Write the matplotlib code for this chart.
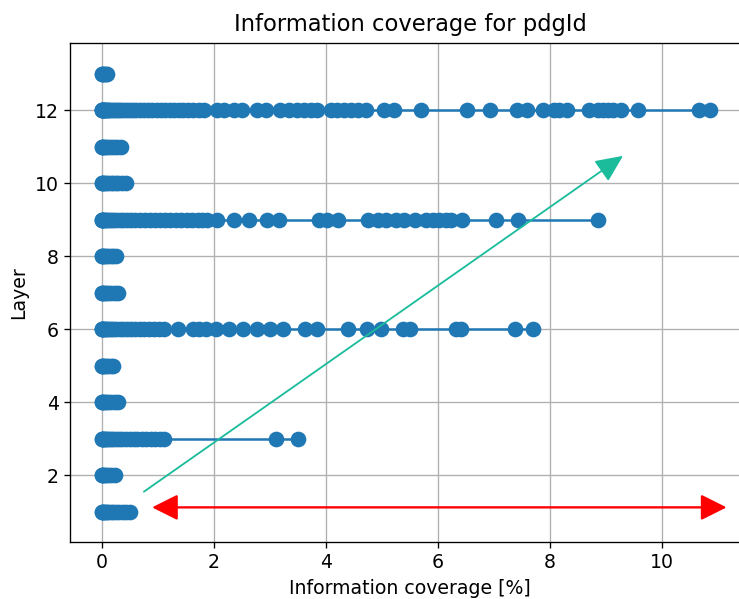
import matplotlib.pyplot as plt

# information coverage [%] per layer (one list per layer, sorted)
layer_1 = [0.0, 0.01, 0.02, 0.04, 0.06, 0.09, 0.12, 0.16, 0.2, 0.25, 0.31, 0.38, 0.44, 0.5]
layer_2 = [0.0, 0.01, 0.03, 0.05, 0.08, 0.12, 0.17, 0.23]
layer_3 = [0.0, 0.01, 0.02, 0.03, 0.05, 0.07, 0.1, 0.13, 0.17, 0.21, 0.26, 0.31, 0.37,
           0.43, 0.5, 0.57, 0.64, 0.72, 0.8, 0.88, 0.96, 1.04, 1.11, 3.12, 3.51]
layer_4 = [0.0, 0.01, 0.03, 0.05, 0.08, 0.12, 0.17, 0.23, 0.29]
layer_5 = [0.0, 0.01, 0.03, 0.05, 0.08, 0.12, 0.16, 0.21]
layer_6 = [0.0, 0.005, 0.01, 0.02, 0.03, 0.05, 0.07, 0.1, 0.13, 0.17, 0.21, 0.26, 0.32,
           0.38, 0.45, 0.52, 0.6, 0.68, 0.76, 0.85, 0.94, 1.03, 1.12, 1.37, 1.63, 1.74,
           1.86, 2.04, 2.27, 2.52, 2.77, 3.01, 3.23, 3.64, 3.85, 4.40, 4.74, 4.98, 5.39,
           5.50, 6.33, 6.42, 7.38, 7.70]
layer_7 = [0.0, 0.01, 0.03, 0.05, 0.08, 0.12, 0.17, 0.23, 0.29]
layer_8 = [0.0, 0.01, 0.03, 0.05, 0.08, 0.12, 0.16, 0.2, 0.25]
layer_9 = [0.0, 0.005, 0.01, 0.02, 0.03, 0.05, 0.07, 0.1, 0.13, 0.17, 0.21, 0.26, 0.32,
           0.38, 0.45, 0.52, 0.6, 0.68, 0.77, 0.86, 0.95, 1.04, 1.13, 1.22, 1.32, 1.42,
           1.52, 1.62, 1.72, 1.8, 1.88, 2.06, 2.37, 2.64, 2.96, 3.16, 3.88, 4.03, 4.22,
           4.75, 4.93, 5.07, 5.25, 5.40, 5.59, 5.79, 5.91, 6.03, 6.15, 6.24, 6.44, 7.04,
           7.43, 8.86]
layer_10 = [0.0, 0.01, 0.03, 0.05, 0.08, 0.12, 0.16, 0.21, 0.26, 0.3, 0.36, 0.43]
layer_11 = [0.0, 0.01, 0.03, 0.05, 0.08, 0.12, 0.17, 0.22, 0.28, 0.34]
layer_12 = [0.0, 0.005, 0.01, 0.015, 0.02, 0.03, 0.04, 0.05, 0.06, 0.08, 0.1, 0.12, 0.14,
            0.17, 0.2, 0.23, 0.27, 0.31, 0.35, 0.4, 0.45, 0.5, 0.56, 0.62, 0.68, 0.75,
            0.82, 0.9, 0.98, 1.06, 1.14, 1.22, 1.3, 1.38, 1.46, 1.55, 1.64, 1.73, 1.82,
            2.06, 2.18, 2.36, 2.51, 2.78, 2.93, 3.19, 3.34, 3.49, 3.61, 3.73, 3.85, 4.09,
            4.21, 4.33, 4.45, 4.57, 4.72, 5.04, 5.22, 5.70, 6.53, 6.94, 7.41, 7.60, 7.88,
            8.07, 8.16, 8.31, 8.71, 8.87, 8.96, 9.05, 9.14, 9.27, 9.57, 10.67, 10.86]
layer_13 = [0.0, 0.01, 0.02, 0.04, 0.07, 0.1]

layers = [1, 2, 3, 4, 5, 6, 7, 8, 9, 10, 11, 12, 13]
coverage = [layer_1, layer_2, layer_3, layer_4, layer_5, layer_6, layer_7,
            layer_8, layer_9, layer_10, layer_11, layer_12, layer_13]

plt.rcParams["font.size"] = 11.3

fig = plt.figure(figsize=(739 / 120, 599 / 120), dpi=120)
# plot area runs off the right edge of the figure
ax = fig.add_axes([0.0951, 0.0957, 0.92, 0.833])
ax.spines["right"].set_visible(False)

for layer, xs in zip(layers, coverage):
    ax.plot(xs, [layer] * len(xs), "o-", color="#1f77b4", ms=8.4, lw=1.5)

# trend arrow and range arrow
ax.annotate("", xy=(9.31, 10.75), xytext=(0.755, 1.55),
            arrowprops=dict(arrowstyle="-|>,head_length=0.7,head_width=0.32",
                            color="#1abc9c", lw=1.1, shrinkA=0, shrinkB=0,
                            mutation_scale=20))
ax.annotate("", xy=(11.16, 1.12), xytext=(0.9, 1.12),
            arrowprops=dict(arrowstyle="<|-|>,head_length=0.66,head_width=0.33",
                            color="red", lw=1.4, shrinkA=0, shrinkB=0,
                            mutation_scale=20))

ax.set_xlim(-0.56, -0.56 + 0.92 * 739 / 56)
ax.set_ylim(0.18, 13.85)
ax.grid(True)
ax.set_title("Information coverage for pdgId", fontsize=13.6, pad=7)
ax.set_xlabel("Information coverage [%]")
ax.set_ylabel("Layer")

fig.savefig("out.png", dpi=120)
